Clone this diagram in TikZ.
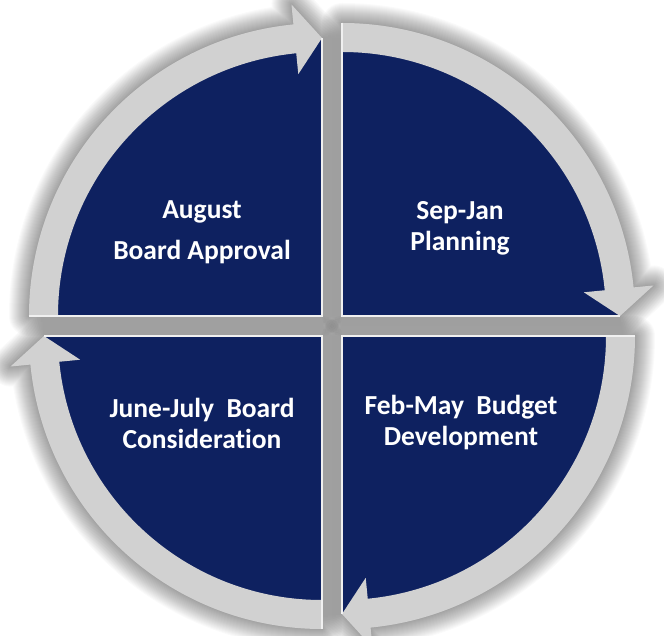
\documentclass[tikz,border=0pt]{standalone}
\usepackage{fontspec}
\setmainfont[Ligatures=NoCommon]{Carlito}
\definecolor{navy}{RGB}{14,33,96}
\definecolor{ring}{RGB}{209,209,209}
\begin{document}
\begin{tikzpicture}[x=1pt,y=1pt,
  quarter/.style={fill=navy},
  band/.style={fill=ring},
  rim/.style={draw=white!88!gray,line width=1.4pt},
  glow/.style={draw=black,opacity=0.02,line join=round},
  label/.style={text=white,align=center,font=\fontsize{27.5}{31}\selectfont\bfseries}]
% radii of the blue quarter, the ring band and its arrow head
\def\Rb{278}\def\Ri{264}\def\Ro{293}\def\Rhi{243}\def\Rho{313}\def\Rt{278}\def\Hb{5.6}
\def\bluepath{(0,0) -- (90:\Rb) arc[start angle=90,end angle=0,radius=\Rb] -- cycle}
\def\bandpath{(90:\Ri) -- (90:\Ro) arc[start angle=90,end angle=\Hb,radius=\Ro]
  -- (\Hb:\Rho) -- (0:\Rt) -- (\Hb:\Rhi) -- (\Hb:\Ri)
  arc[start angle=\Hb,end angle=90,radius=\Ri] -- cycle}
\def\outline{(0,0) -- (90:\Ro) arc[start angle=90,end angle=\Hb,radius=\Ro]
  -- (\Hb:\Rho) -- (0:\Rt) -- cycle}
\useasboundingbox (-332,-310) rectangle (332,326);
\clip (-332,-310) rectangle (332,326);
\fill[white] (-332,-310) rectangle (332,326);
% soft shadow under all four segments
\foreach \sx/\sy/\rot in {10/10/0, 10/-10/-90, -10/-10/180, -10/10/90}{
  \begin{scope}[shift={(\sx,\sy)},rotate=\rot]
    \foreach \w in {2,4,...,40}{\draw[glow,line width=\w pt] \outline;}
  \end{scope}}
% segments: blue quarter, grey arrow band, light rim on the straight edges
\foreach \sx/\sy/\rot in {10/10/0, 10/-10/-90, -10/-10/180, -10/10/90}{
  \begin{scope}[shift={(\sx,\sy)},rotate=\rot]
    \fill[quarter] \bluepath;
    \fill[band] \bandpath;
    \draw[rim] (0,\Ro) -- (0,0) -- (\Rt,0);
  \end{scope}}
\node[label] (aug) at (-130,94) {August\\[10pt]Board Approval};
\node[label] (sep) at (128,98) {Sep-Jan\\Planning};
\node[label] (feb) at (129,-97) {Feb-May\ \ Budget\\Development};
\node[label] (jun) at (-130,-97) {June-July\ \ Board\\Consideration};
\end{tikzpicture}
\end{document}
